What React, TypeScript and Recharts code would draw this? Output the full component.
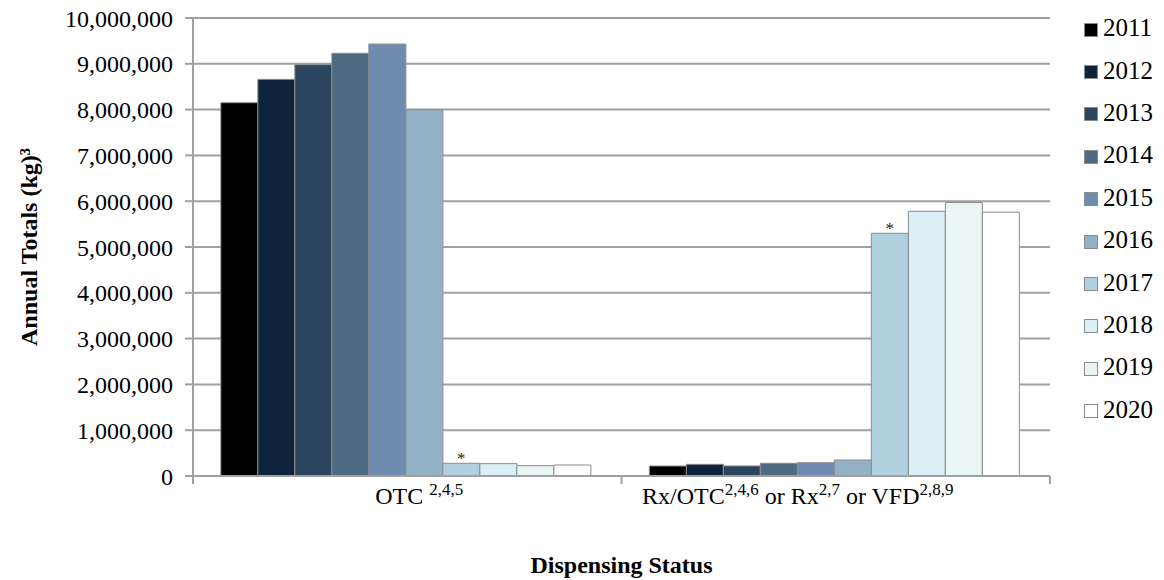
import React from 'react';
import {
  BarChart, Bar, XAxis, YAxis, CartesianGrid, Legend, LabelList,
} from 'recharts';

const years = ['2011', '2012', '2013', '2014', '2015', '2016', '2017', '2018', '2019', '2020'];
const categories = ['OTC', 'Rx/OTC or Rx or VFD'];
const otcValues = [8150000, 8660000, 8980000, 9230000, 9430000, 8000000, 277000, 270000, 225000, 240000];
const rxValues = [218000, 255000, 220000, 277000, 290000, 350000, 5300000, 5780000, 5970000, 5760000];
const yTicks = [0, 1000000, 2000000, 3000000, 4000000, 5000000, 6000000, 7000000, 8000000, 9000000, 10000000];
const categoryLabelParts: [string, string][][] = [
  [['OTC ', '2,4,5']],
  [['Rx/OTC', '2,4,6'], [' or Rx', '2,7'], [' or VFD', '2,8,9']],
];
const yearColors = ['#000000', '#0e243d', '#2c455e', '#4d6a82', '#6f8bb0', '#93b1c4', '#b0d0e0', '#daeef5', '#eaf5f5', '#ffffff'];
const starredYear = '2017';

const seriesValues = [otcValues, rxValues];
const data = categories.map((name, ci) => {
  const row: Record<string, string | number> = { name };
  years.forEach((y, yi) => { row['y' + y] = seriesValues[ci][yi]; });
  return row;
});

const FONT = '"Liberation Serif", "Times New Roman", Times, serif';
const W = 1164;
const H = 580;
const PLOT_LEFT = 193;
const PLOT_RIGHT = 1050;
const LEGEND_W = 80;
const GRAY = '#a0a0a0';
const bandWidth = (PLOT_RIGHT - PLOT_LEFT) / categories.length;
const labelShift = [12, -38];

const CategoryTick = (props: any) => {
  const { x, y, index } = props;
  const parts = categoryLabelParts[index] || [];
  const half = bandWidth / 2;
  return (
    <g>
      <line x1={x - half} x2={x - half} y1={y} y2={y + 8} stroke={GRAY} strokeWidth={2} />
      {index === categories.length - 1 && (
        <line x1={x + half} x2={x + half} y1={y} y2={y + 8} stroke={GRAY} strokeWidth={2} />
      )}
      <text x={x + (labelShift[index] || 0)} y={y + 28} textAnchor="middle" fontFamily={FONT} fontSize={24} fill="#000">
        {parts.map(([main, sup], i) => (
          <React.Fragment key={i}>
            <tspan dy={i === 0 ? 0 : 9}>{main}</tspan>
            <tspan dy={-9} fontSize={17}>{sup}</tspan>
          </React.Fragment>
        ))}
      </text>
    </g>
  );
};

const renderLegend = () => (
  <div style={{ fontFamily: FONT, fontSize: 25, color: '#000' }}>
    {years.map((y, i) => (
      <div key={y} style={{ display: 'flex', alignItems: 'center', height: 42.4 }}>
        <span
          style={{
            display: 'inline-block', width: 12, height: 12, background: yearColors[i],
            border: '1px solid #8c8c8c', marginRight: 5, marginTop: 3,
          }}
        />
        <span>{y}</span>
      </div>
    ))}
  </div>
);

const Star = (props: any) => {
  const { x, y, width } = props;
  return (
    <text x={x + width / 2} y={y + 1} textAnchor="middle" fontFamily={FONT} fontSize={17} fill="#222">*</text>
  );
};

export default function App() {
  return (
    <div style={{ position: 'absolute', left: 0, top: 0, width: W, height: H, background: '#fff' }}>
      <BarChart
        width={W}
        height={H}
        data={data}
        margin={{ top: 18, right: W - PLOT_RIGHT - LEGEND_W, left: 0, bottom: 0 }}
        barCategoryGap="6.5%"
        barGap={0}
      >
        <CartesianGrid vertical={false} stroke={GRAY} strokeWidth={2} />
        <XAxis
          dataKey="name"
          height={104}
          axisLine={{ stroke: GRAY, strokeWidth: 2 }}
          tickLine={false}
          tickSize={0}
          tickMargin={0}
          tick={<CategoryTick />}
          interval={0}
          label={{
            value: 'Dispensing Status', position: 'insideBottom', offset: 7,
            style: { fontFamily: FONT, fontSize: 24, fontWeight: 'bold', fill: '#000' },
          }}
        />
        <YAxis
          width={PLOT_LEFT}
          domain={[0, 10000000]}
          ticks={yTicks}
          interval={0}
          axisLine={{ stroke: GRAY, strokeWidth: 2 }}
          tickLine={{ stroke: GRAY, strokeWidth: 2 }}
          tickSize={8}
          tickMargin={12}
          tick={{ fontFamily: FONT, fontSize: 24, fill: '#000' }}
          tickFormatter={(v: number) => v.toLocaleString('en-US')}
          label={{
            value: 'Annual Totals (kg)³', angle: -90, position: 'insideLeft', offset: 28,
            style: { fontFamily: FONT, fontSize: 24, fontWeight: 'bold', fill: '#000', textAnchor: 'middle' },
          }}
        />
        <Legend
          layout="horizontal"
          verticalAlign="middle"
          align="right"
          content={renderLegend}
          wrapperStyle={{ left: 1084, top: 7, width: LEGEND_W }}
        />
        {years.map((y, i) => (
          <Bar
            key={y}
            dataKey={'y' + y}
            name={y}
            fill={yearColors[i]}
            stroke="#8c8c8c"
            strokeWidth={1}
            isAnimationActive={false}
          >
            {y === starredYear && <LabelList dataKey={'y' + y} content={<Star />} />}
          </Bar>
        ))}
      </BarChart>
    </div>
  );
}
